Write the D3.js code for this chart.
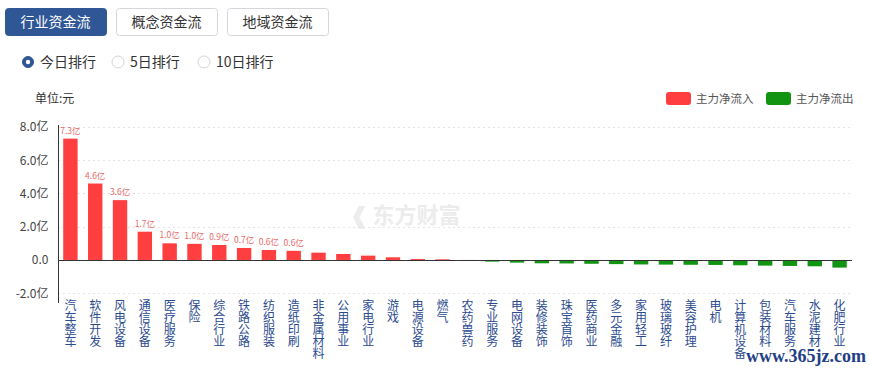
<!DOCTYPE html>
<html><head><meta charset="utf-8">
<script src="https://cdn.jsdelivr.net/npm/d3@7"></script>
<style>
body{margin:0;background:#fff;font-family:"Microsoft YaHei","Noto Sans CJK SC",sans-serif;}
</style></head>
<body><svg id="c" width="870" height="369"></svg>
<script>
const categories = ["汽车整车","软件开发","风电设备","通信设备","医疗服务","保险","综合行业","铁路公路","纺织服装","造纸印刷","非金属材料","公用事业","家电行业","游戏","电源设备","燃气","农药兽药","专业服务","电网设备","装修装饰","珠宝首饰","医药商业","多元金融","家用轻工","玻璃玻纤","美容护理","电机","计算机设备","包装材料","汽车服务","水泥建材","化肥行业"];
const values = [7.3,4.6,3.6,1.7,1.0,0.97,0.9,0.72,0.6,0.55,0.44,0.36,0.26,0.16,0.06,0.04,-0.03,-0.1,-0.16,-0.2,-0.21,-0.23,-0.25,-0.27,-0.28,-0.29,-0.3,-0.32,-0.34,-0.36,-0.38,-0.46];
const valueLabels = ["7.3亿","4.6亿","3.6亿","1.7亿","1.0亿","1.0亿","0.9亿","0.7亿","0.6亿","0.6亿"];
const yTicks = [-2,0,2,4,6,8];
const yTickLabels = ["-2.0亿","0.0","2.0亿","4.0亿","6.0亿","8.0亿"];
const tabs = ["行业资金流","概念资金流","地域资金流"];
const radios = ["今日排行","5日排行","10日排行"];
const legendItems = ["主力净流入","主力净流出"];

const svg = d3.select("#c");
const font = '"Microsoft YaHei","Noto Sans CJK SC",sans-serif';

// tabs
const tabX = d3.scaleBand().domain(tabs).range([5,328]).paddingInner(0.09);
tabs.forEach((t,i)=>{
  const g = svg.append("g");
  g.append("rect").attr("x",tabX(t)+0.5).attr("y",8.5).attr("width",tabX.bandwidth()).attr("height",27).attr("rx",3)
    .attr("fill", i===0?"#2f5795":"#fff").attr("stroke", i===0?"#2f5795":"#d3d7dc");
  g.append("text").attr("x",tabX(t)+tabX.bandwidth()/2).attr("y",27).attr("text-anchor","middle")
    .attr("font-size",14).attr("font-family",font).attr("fill", i===0?"#fff":"#333").text(t);
});

// radios
const radioX = [28,118,204];
radios.forEach((r,i)=>{
  svg.append("circle").attr("cx",radioX[i]).attr("cy",62).attr("r",i===0?5.5:6)
    .attr("fill", i===0?"#2f5795":"#fff").attr("stroke", i===0?"#2f5795":"#d5d5d5").attr("stroke-width",1);
  if(i===0) svg.append("circle").attr("cx",radioX[i]).attr("cy",62).attr("r",2.2).attr("fill","#fff");
  svg.append("text").attr("x",radioX[i]+12).attr("y",67).attr("font-size",14).attr("font-family",font).attr("fill","#333").text(r);
});

svg.append("text").attr("x",35).attr("y",103).attr("font-size",12).attr("font-family",font).attr("fill","#333").text("单位:元");

// legend
const legColors = ["#ff3f3f","#119411"];
const legX = [666,766];
legendItems.forEach((l,i)=>{
  svg.append("rect").attr("x",legX[i]).attr("y",92).attr("width",25).attr("height",13).attr("rx",3).attr("fill",legColors[i]);
  svg.append("text").attr("x",legX[i]+30).attr("y",103).attr("font-size",11.5).attr("font-family",font).attr("fill","#555").text(l);
});

// watermark
svg.append("text").attr("x",405).attr("y",223).attr("text-anchor","middle").attr("font-size",22).attr("font-weight","bold")
  .attr("font-family",font).attr("fill","#ececec").text("❰ 东方财富");

// scales
const x = d3.scaleBand().domain(categories).range([58,852]).paddingInner(0.42).paddingOuter(0.21);
const y = d3.scaleLinear().domain([-2,8]).range([293.2,127]);

// grid
svg.append("g").selectAll("line").data(yTicks).join("line")
  .attr("x1",58).attr("x2",852).attr("y1",d=>Math.round(y(d))+0.5).attr("y2",d=>Math.round(y(d))+0.5)
  .attr("stroke","#e4e4e4").attr("stroke-dasharray","2,3");

// y axis
const yAxis = d3.axisLeft(y).tickValues(yTicks).tickFormat((d,i)=>yTickLabels[i]).tickSize(0).tickPadding(10);
const ya = svg.append("g").attr("transform","translate(58.5,0)").call(yAxis);
ya.select(".domain").attr("stroke","#333").attr("d","M0,125V303");
ya.selectAll("text").attr("font-size",12).attr("font-family",font).attr("fill","#444");

// bars
svg.append("g").selectAll("rect").data(values).join("rect")
  .attr("x",(d,i)=>x(categories[i]))
  .attr("width",x.bandwidth())
  .attr("y",d=>d>=0?y(d):y(0))
  .attr("height",d=>Math.abs(y(d)-y(0)))
  .attr("fill",d=>d>=0?"#ff3f3f":"#119411");

// value labels
svg.append("g").selectAll("text").data(valueLabels).join("text")
  .attr("x",(d,i)=>x(categories[i])+x.bandwidth()/2)
  .attr("y",(d,i)=>y(values[i])-5)
  .attr("text-anchor","middle").attr("font-size",8.5).attr("font-family",font).attr("fill","#e86a6a").text(d=>d);

// zero line
svg.append("line").attr("x1",58).attr("x2",852).attr("y1",Math.round(y(0))+0.5).attr("y2",Math.round(y(0))+0.5).attr("stroke","#333");

// x labels: stacked characters
const xl = svg.append("g");
categories.forEach(c=>{
  const cx = x(c)+x.bandwidth()/2;
  xl.selectAll(null).data([...c]).join("text")
    .attr("x",cx).attr("y",(ch,j)=>310+j*12).attr("text-anchor","middle")
    .attr("font-size",12).attr("font-family",font).attr("fill","#2b4b8f").text(ch=>ch);
});

// site watermark
svg.append("text").attr("x",746).attr("y",362)
  .attr("font-size",18).attr("font-weight","bold")
  .attr("font-family","'Liberation Serif',serif").attr("fill","#1f3f86").text("www.365jz.com");
</script></body></html>
